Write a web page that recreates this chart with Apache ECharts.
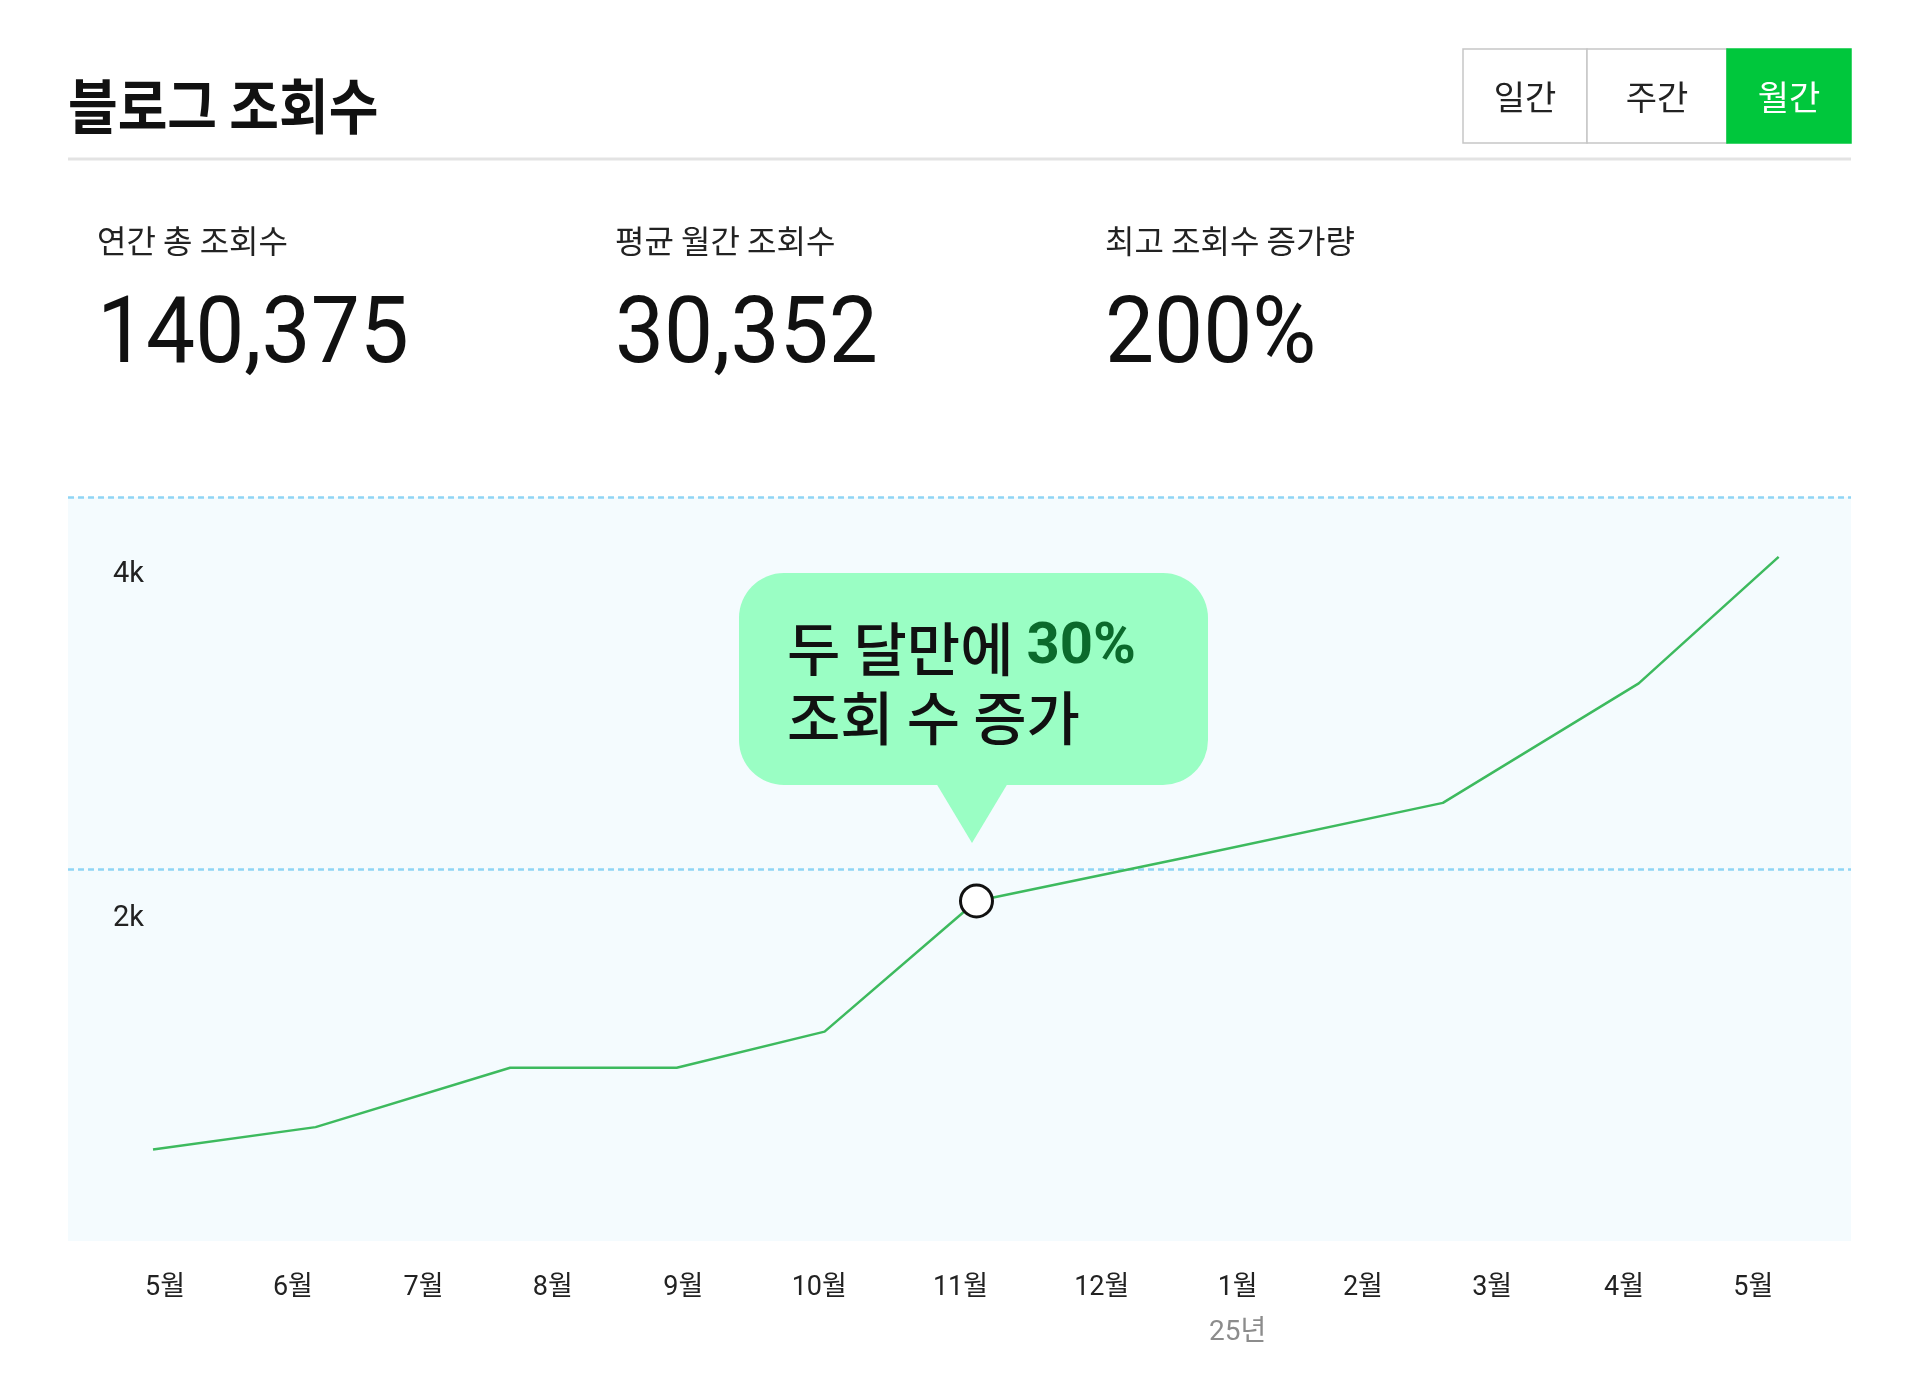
<!DOCTYPE html>
<html>
<head>
<meta charset="utf-8">
<title>블로그 조회수</title>
<script src="https://cdn.jsdelivr.net/npm/echarts@6/dist/echarts.min.js"></script>
<style>
  html, body { margin: 0; padding: 0; background: #fff; }
  #chart { width: 1920px; height: 1373px; }
</style>
</head>
<body>
<div id="chart"></div>
<script>
// 데이터
var months = ['5월', '6월', '7월', '8월', '9월', '10월', '11월', '12월', '1월', '2월', '3월', '4월', '5월'];
// 월 라벨의 가로 위치 (눈금 단위, 원본 배치 그대로)
var monthPos = [0, 0.96, 1.94, 2.91, 3.89, 4.91, 5.97, 7.03, 8.05, 8.99, 9.96, 10.95, 11.92];
var yearLabel = '25년';
var yearIndex = 8;
// 각 점의 가로 위치와 조회수
var pointPos = [-0.09, 1.13, 2.59, 3.84, 4.95, 6.09, 7.68, 9.59, 11.06, 12.11];
var views = [660, 790, 1135, 1135, 1345, 2105, 2360, 2675, 3370, 4105];
var highlightIndex = 5;

var periods = ['일간', '주간', '월간'];
var activePeriod = 2;
var statNames = ['연간 총 조회수', '평균 월간 조회수', '최고 조회수 증가량'];
var statValues = ['140,375', '30,352', '200%'];
var calloutLines = ['두 달만에 ', '30%', '조회 수 증가'];

var KR = 'Roboto, "Noto Sans CJK KR", sans-serif';

var myChart = echarts.init(document.getElementById('chart'));

var lineData = pointPos.map(function (x, i) {
  return [x, views[i]];
});

// 머리글: 제목, 기간 버튼, 요약 숫자
var btnX = [1463, 1587, 1727, 1851];
var header = [];
header.push({
  type: 'text', x: 68, y: 106, scaleX: 0.9,
  style: { text: '블로그 조회수', fontSize: 60, fontWeight: 'bold', fontFamily: '"Noto Sans CJK KR"', fill: '#111', verticalAlign: 'middle' }
});
header.push({
  type: 'line',
  shape: { x1: 68, y1: 159, x2: 1851, y2: 159 },
  style: { stroke: '#e3e3e3', lineWidth: 3 }
});
for (var i = 0; i < periods.length; i++) {
  var on = i === activePeriod;
  header.push({
    type: 'rect',
    shape: { x: btnX[i], y: 49, width: btnX[i + 1] - btnX[i], height: 94 },
    style: { fill: on ? '#00c73c' : '#fff', stroke: on ? '#00c73c' : '#c6c6c6', lineWidth: 1.5 }
  });
  header.push({
    type: 'text', x: (btnX[i] + btnX[i + 1]) / 2, y: 97,
    style: { text: periods[i], fontSize: 34, fontFamily: '"Noto Sans CJK KR"', fill: on ? '#fff' : '#222', align: 'center', verticalAlign: 'middle' }
  });
}
var statX = [97, 615, 1105];
for (var j = 0; j < statNames.length; j++) {
  header.push({
    type: 'text', x: statX[j], y: 241,
    style: { text: statNames[j], fontSize: 32, fontFamily: '"Noto Sans CJK KR"', fill: '#222', verticalAlign: 'middle' }
  });
  header.push({
    type: 'text', x: statX[j], y: 339, scaleX: 0.95,
    style: { text: statValues[j], fontSize: 92, fontFamily: 'Roboto', fill: '#111', verticalAlign: 'middle' }
  });
}

// 말풍선
var callout = [
  {
    type: 'rect', z: 10,
    shape: { x: 739, y: 573, width: 469, height: 212, r: 45 },
    style: { fill: '#9afec4' }
  },
  {
    type: 'polygon', z: 10,
    shape: { points: [[936, 783], [1008, 783], [972, 843]] },
    style: { fill: '#9afec4' }
  },
  {
    type: 'text', z: 11, x: 787, y: 614,
    style: {
      text: '{a|' + calloutLines[0] + '}{b|' + calloutLines[1] + '}\n{a|' + calloutLines[2] + '}',
      verticalAlign: 'top',
      rich: {
        a: { fontSize: 58, fontWeight: 500, fontFamily: '"Noto Sans CJK KR"', fill: '#111', lineHeight: 69 },
        b: { fontSize: 58, fontWeight: 'bold', fontFamily: 'Roboto', fill: '#0b6a2c', lineHeight: 69 }
      }
    }
  }
];

var option = {
  animation: false,
  backgroundColor: '#fff',
  grid: [
    // 배경과 점선
    { left: 68, top: 497, width: 1783, height: 744, show: true, backgroundColor: '#f4fbfe', borderWidth: 0, containLabel: false, outerBoundsMode: 'none' },
    // 데이터 영역
    { left: 68, top: 575, width: 1783, height: 688, containLabel: false, outerBoundsMode: 'none' }
  ],
  xAxis: [
    {
      gridIndex: 1, type: 'value',
      min: -0.728, max: 12.653,
      axisLine: { show: false }, axisTick: { show: false }, splitLine: { show: false },
      axisLabel: {
        customValues: monthPos,
        margin: 10,
        fontSize: 27, lineHeight: 30, color: '#222', fontFamily: KR,
        formatter: function (v) {
          var k = 0;
          for (var n = 0; n < monthPos.length; n++) {
            if (Math.abs(monthPos[n] - v) < 1e-6) k = n;
          }
          if (k === yearIndex) return months[k] + '\n{y|' + yearLabel + '}';
          return months[k];
        },
        rich: { y: { fontSize: 28, lineHeight: 60, color: '#8c8c8c', fontFamily: KR } }
      }
    },
    { gridIndex: 0, type: 'value', min: 0, max: 1, show: false }
  ],
  yAxis: [
    {
      gridIndex: 1, type: 'value',
      min: 0, max: 4000, interval: 2000,
      axisLine: { show: false }, axisTick: { show: false }, splitLine: { show: false },
      axisLabel: {
        inside: true, margin: 45,
        fontSize: 29, color: '#222', fontFamily: KR,
        formatter: function (v) { return v === 0 ? '' : (v / 1000) + 'k'; }
      }
    },
    {
      gridIndex: 0, type: 'value',
      min: 0, max: 2, interval: 1,
      axisLine: { show: false }, axisTick: { show: false }, axisLabel: { show: false },
      splitLine: { show: true, lineStyle: { color: ['rgba(0,0,0,0)', '#8fd5f5', '#8fd5f5'], type: [6, 4], width: 2.5 } }
    }
  ],
  series: [
    {
      type: 'line',
      xAxisIndex: 0, yAxisIndex: 0,
      data: lineData,
      symbol: 'none',
      clip: false,
      lineStyle: { color: '#3dba5e', width: 2.5 },
      z: 3
    },
    {
      type: 'scatter',
      xAxisIndex: 0, yAxisIndex: 0,
      data: [lineData[highlightIndex]],
      symbol: 'circle', symbolSize: 32,
      clip: false,
      itemStyle: { color: '#fff', borderColor: '#111', borderWidth: 3, opacity: 1 },
      z: 5
    }
  ],
  graphic: header.concat(callout)
};

myChart.setOption(option);

window.onresize = function () {
  myChart.resize();
};
</script>
</body>
</html>
